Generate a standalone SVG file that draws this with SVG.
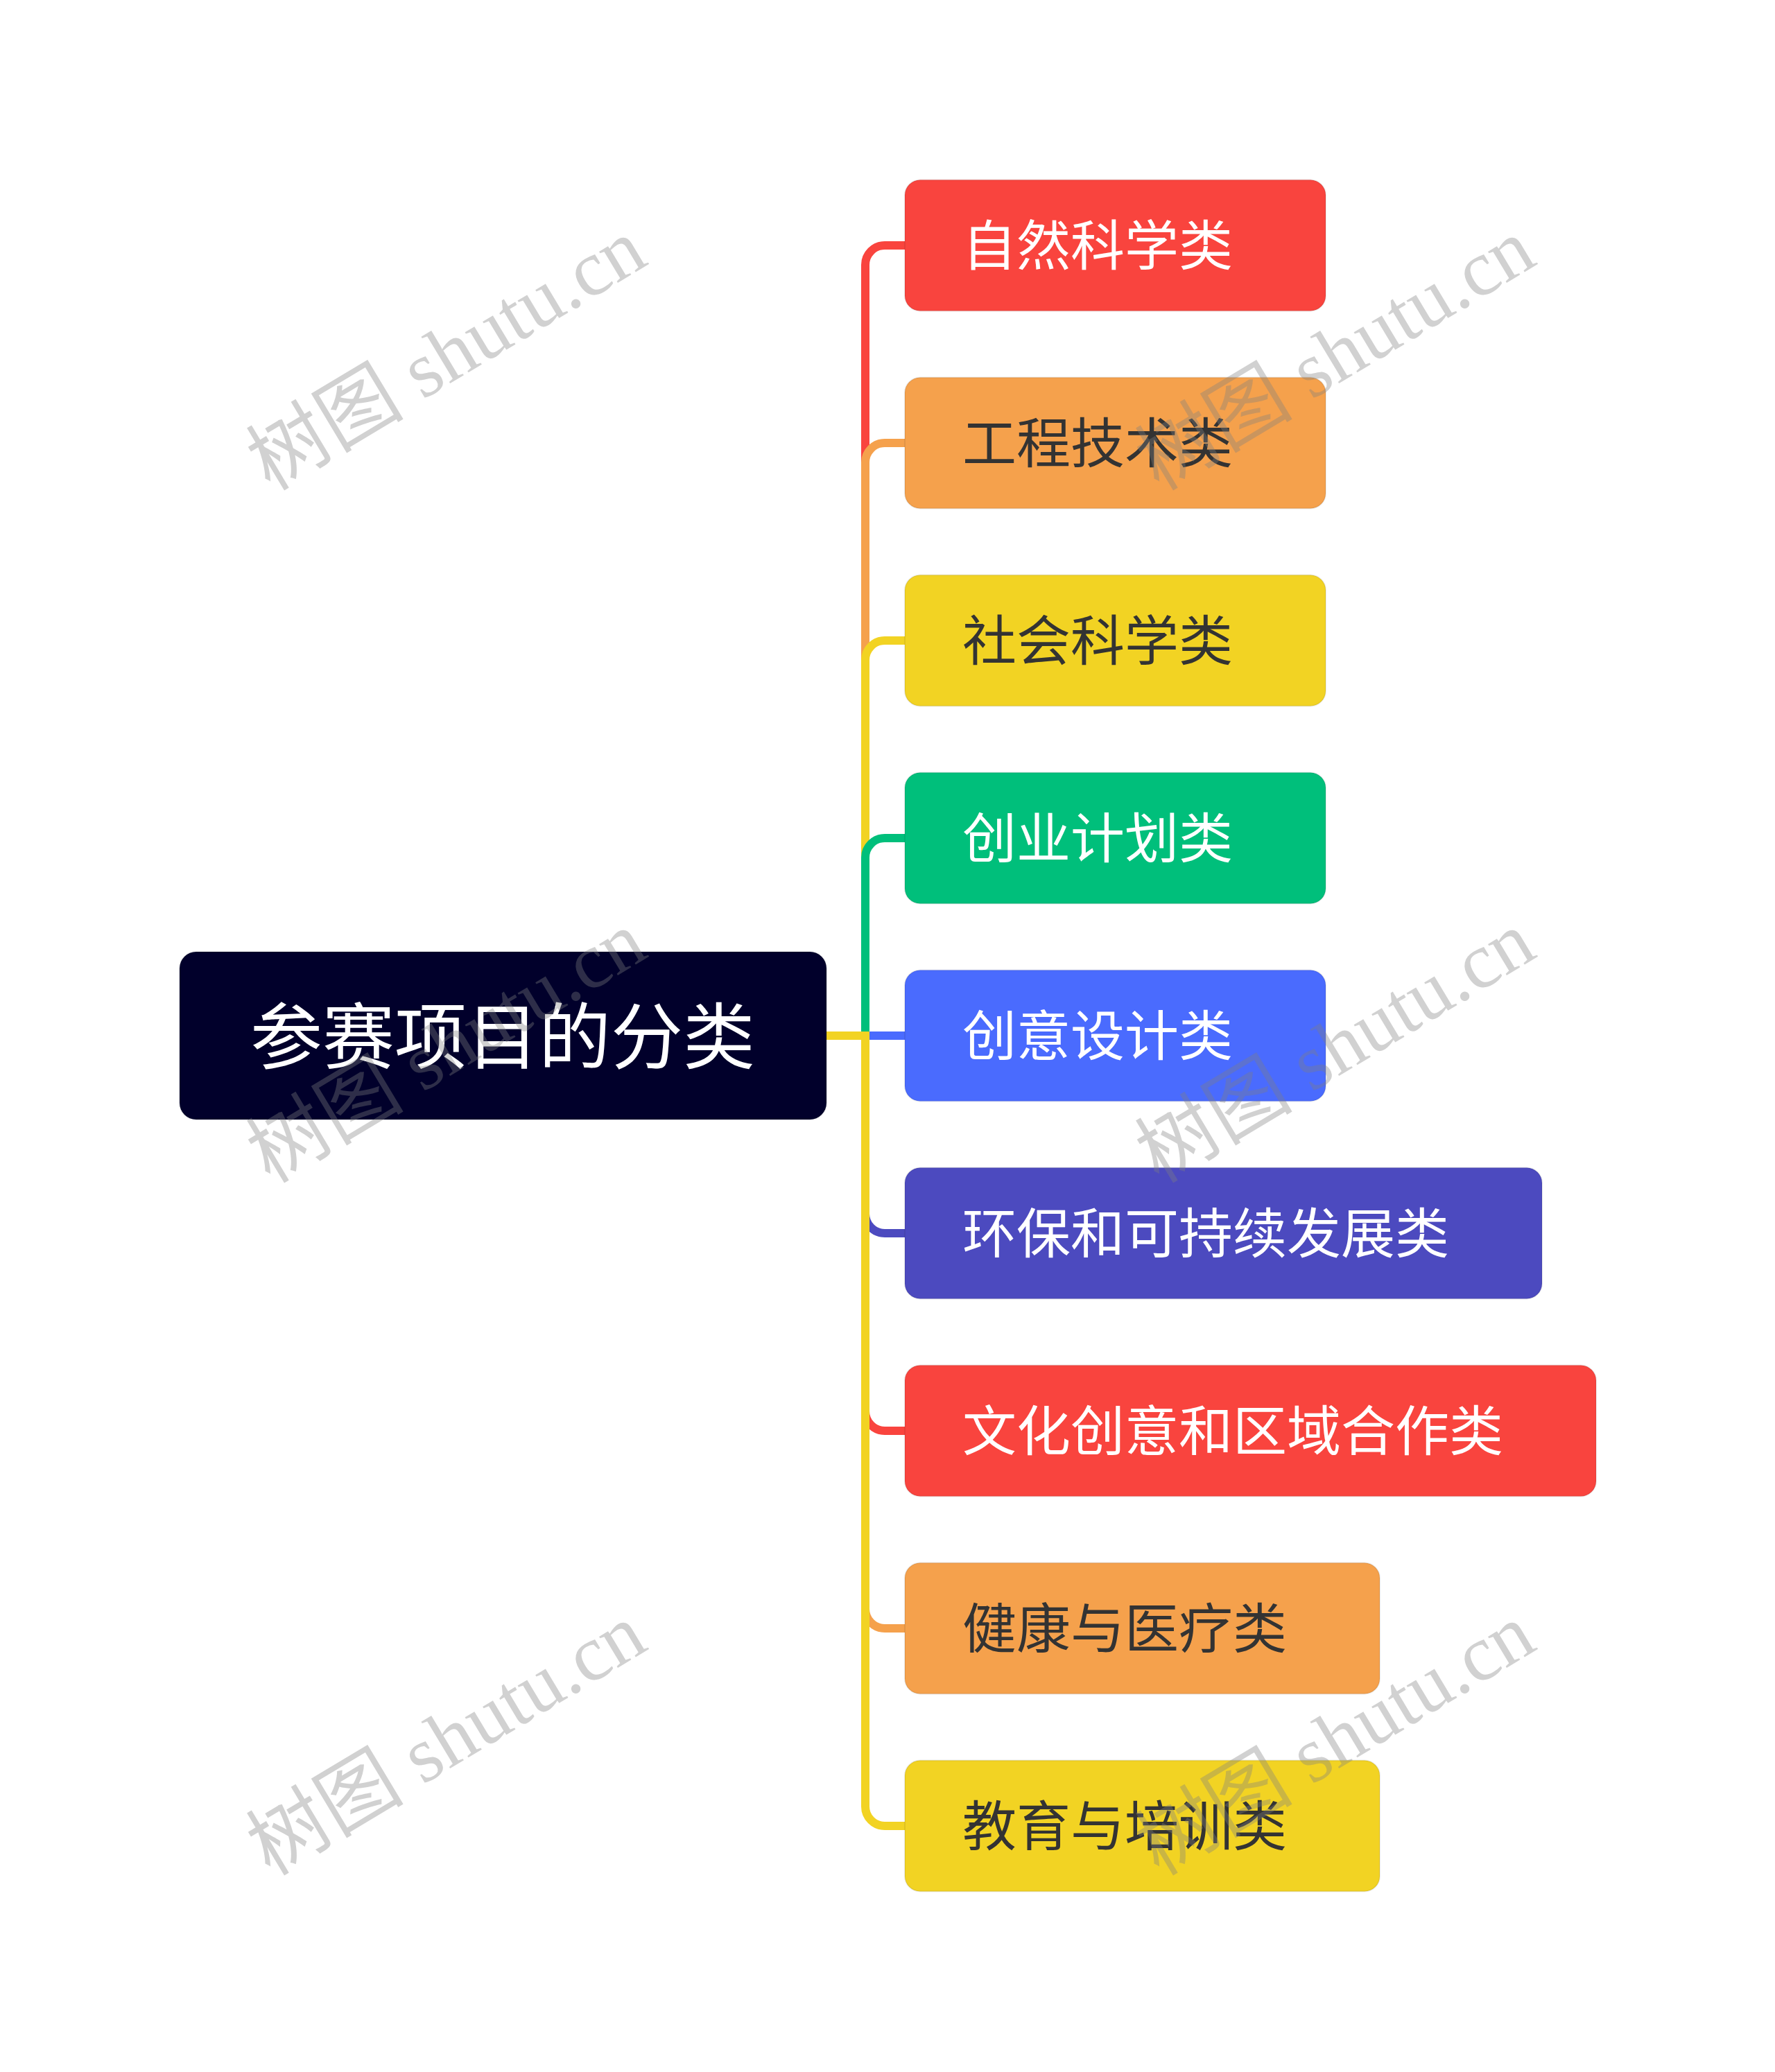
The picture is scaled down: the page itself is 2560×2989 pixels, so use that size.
<svg xmlns="http://www.w3.org/2000/svg" width="2560" height="2989" viewBox="0 0 2560 2989">
<style>
.box{stroke:#000;stroke-opacity:0.08;stroke-width:2}
.t{font-family:"Noto Sans CJK SC","Noto Sans",sans-serif;font-size:78px}
.w{fill:#fff}
.d{fill:#333333}
.rt{font-family:"Noto Sans CJK SC","Noto Sans",sans-serif;font-size:104px;fill:#fff;text-anchor:middle}
.ln{fill:none;stroke-width:12}
.wm{font-family:"Liberation Serif","Noto Sans CJK SC",serif;font-size:114px;fill:#808080;fill-opacity:0.36;text-anchor:middle}
</style>
<rect width="2560" height="2989" fill="#ffffff"/>
<g id="connectors">
<path class="ln" stroke="#F9443E" d="M1192 1494 H1248 V382 A28 28 0 0 1 1276 354 H1306"/>
<path class="ln" stroke="#F5A14C" d="M1192 1494 H1248 V667 A28 28 0 0 1 1276 639 H1306"/>
<path class="ln" stroke="#F2D323" d="M1192 1494 H1248 V952 A28 28 0 0 1 1276 924 H1306"/>
<path class="ln" stroke="#00BF7B" d="M1192 1494 H1248 V1237 A28 28 0 0 1 1276 1209 H1306"/>
<path class="ln" stroke="#4A6BFE" d="M1192 1494 H1306"/>
<path class="ln" stroke="#4C4ABF" d="M1192 1494 H1248 V1751 A28 28 0 0 0 1276 1779 H1306"/>
<path class="ln" stroke="#F9443E" d="M1192 1494 H1248 V2036 A28 28 0 0 0 1276 2064 H1306"/>
<path class="ln" stroke="#F5A14C" d="M1192 1494 H1248 V2321 A28 28 0 0 0 1276 2349 H1306"/>
<path class="ln" stroke="#F2D323" d="M1192 1494 H1248 V2606 A28 28 0 0 0 1276 2634 H1306"/>
</g>
<g id="root">
<rect class="box" x="259" y="1373" width="933" height="242" rx="24" fill="#01002B"/>
<text class="rt" x="725" y="1534">参赛项目的分类</text>
</g>
<g id="n1">
<rect class="box" x="1305" y="259.5" width="607" height="189" rx="22" fill="#F9443E"/>
<text class="t w" x="1388" y="383">自然科学类</text>
</g>
<g id="n2">
<rect class="box" x="1305" y="544.5" width="607" height="189" rx="22" fill="#F5A14C"/>
<text class="t d" x="1388" y="668">工程技术类</text>
</g>
<g id="n3">
<rect class="box" x="1305" y="829.5" width="607" height="189" rx="22" fill="#F2D323"/>
<text class="t d" x="1388" y="953">社会科学类</text>
</g>
<g id="n4">
<rect class="box" x="1305" y="1114.5" width="607" height="189" rx="22" fill="#00BF7B"/>
<text class="t w" x="1388" y="1238">创业计划类</text>
</g>
<g id="n5">
<rect class="box" x="1305" y="1399.5" width="607" height="189" rx="22" fill="#4A6BFE"/>
<text class="t w" x="1388" y="1523">创意设计类</text>
</g>
<g id="n6">
<rect class="box" x="1305" y="1684.5" width="919" height="189" rx="22" fill="#4C4ABF"/>
<text class="t w" x="1388" y="1808">环保和可持续发展类</text>
</g>
<g id="n7">
<rect class="box" x="1305" y="1969.5" width="997" height="189" rx="22" fill="#F9443E"/>
<text class="t w" x="1388" y="2093">文化创意和区域合作类</text>
</g>
<g id="n8">
<rect class="box" x="1305" y="2254.5" width="685" height="189" rx="22" fill="#F5A14C"/>
<text class="t d" x="1388" y="2378">健康与医疗类</text>
</g>
<g id="n9">
<rect class="box" x="1305" y="2539.5" width="685" height="189" rx="22" fill="#F2D323"/>
<text class="t d" x="1388" y="2663">教育与培训类</text>
</g>
<g id="watermarks">
<text class="wm" transform="translate(644 512) rotate(-31)" y="38">树图 shutu.cn</text>
<text class="wm" transform="translate(1926 512) rotate(-31)" y="38">树图 shutu.cn</text>
<text class="wm" transform="translate(644 1511) rotate(-31)" y="38">树图 shutu.cn</text>
<text class="wm" transform="translate(1926 1511) rotate(-31)" y="38">树图 shutu.cn</text>
<text class="wm" transform="translate(644 2510) rotate(-31)" y="38">树图 shutu.cn</text>
<text class="wm" transform="translate(1926 2510) rotate(-31)" y="38">树图 shutu.cn</text>
</g>
</svg>
